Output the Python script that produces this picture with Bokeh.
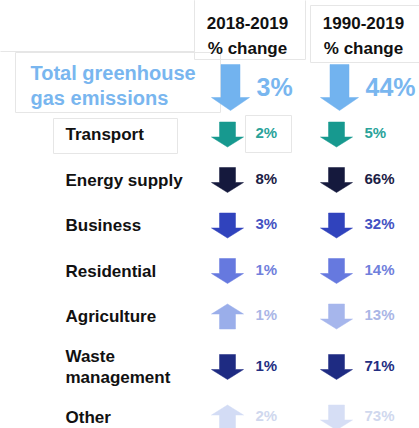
from bokeh.plotting import figure
from bokeh.models import Range1d, ColumnDataSource
from bokeh.core.properties import value
from bokeh.embed import file_html
from bokeh.resources import INLINE

# ---------------- data ----------------
sectors = ["Total greenhouse\ngas emissions", "Transport", "Energy supply", "Business",
           "Residential", "Agriculture", "Waste\nmanagement", "Other"]
change_2018_2019 = [-3, -2, -8, -3, -1, 1, -1, 2]
change_1990_2019 = [-44, -5, -66, -32, -14, -13, -71, -73]
column_headers = ["2018-2019\n% change", "1990-2019\n% change"]

# ---------------- styles ----------------
arrow_colors_a = ["#72b3ef", "#17998f", "#15193d", "#3043bd", "#6679df", "#9aaeea", "#1e2b82", "#d3dcf5"]
arrow_colors_b = ["#72b3ef", "#17998f", "#15193d", "#3043bd", "#6679df", "#a6b6ec", "#1e2b82", "#d6def5"]
text_colors = ["#79b6ef", "#2aa39a", "#1b2045", "#4452c2", "#7080dc", "#aab6e6", "#232e82", "#d0d8ee"]
FONT = value("Liberation Sans")

W, H = 419, 428
p = figure(width=W, height=H, output_backend="svg", toolbar_location=None,
           x_range=Range1d(0, W), y_range=Range1d(H, 0),
           min_border=0, outline_line_color=None)
p.axis.visible = False
p.grid.visible = False
p.background_fill_color = "white"

# ---------------- layout ----------------
lines = [s.split("\n") for s in sectors]
row_y = [86.0, 134.0]
for i in range(2, len(sectors)):
    extra = (len(lines[i - 1]) - 1) + (len(lines[i]) - 1)
    row_y.append(row_y[-1] + 45.5 + 5.0 * extra)

col_x = [227.0, 336.0]
header_x = [247.0, 363.0]
pct_offset = 28.0

# faint slide text-box outlines
boxes = dict(left=[-5, 194, 310, 15, 53, 245],
             right=[194, 305, 425, 220, 177, 291],
             top=[-5, -5, 5, 52, 118, 115],
             bottom=[51, 59, 62, 112, 153, 152])
p.quad(source=ColumnDataSource(boxes), left="left", right="right", top="top", bottom="bottom",
       fill_alpha=0, line_color="#e6e6e6", line_width=1)


def arrow(cx, cy, up, h, sw, hw, hh):
    s = -1 if up else 1          # y grows downward
    top = cy - s * h / 2
    tip = cy + s * h / 2
    neck = tip - s * hh
    xs = [cx - sw / 2, cx + sw / 2, cx + sw / 2, cx + hw / 2, cx, cx - hw / 2, cx - sw / 2]
    ys = [top, top, neck, neck, tip, neck, neck]
    return xs, ys


ax, ay, ac = [], [], []
for i in range(len(sectors)):
    for c, (vals, cols) in enumerate([(change_2018_2019, arrow_colors_a), (change_1990_2019, arrow_colors_b)]):
        if i == 0:
            xs, ys = arrow(col_x[c] + 3, row_y[i] + 1, vals[i] > 0, 46, 19, 38, 13)
        else:
            xs, ys = arrow(col_x[c], row_y[i], vals[i] > 0, 25, 16, 32, 10)
        ax.append(xs); ay.append(ys); ac.append(cols[i])
p.patches(xs=ax, ys=ay, fill_color=ac, line_color=ac, line_width=0.5)

# headers
hx, hy, ht = [], [], []
for c, hdr in enumerate(column_headers):
    for k, ln in enumerate(hdr.split("\n")):
        hx.append(header_x[c]); hy.append(22.5 + 25.5 * k); ht.append(ln)
p.text(x=hx, y=hy, text=ht, text_align="center", text_baseline="middle",
       text_font=FONT, text_font_style="bold", text_font_size="17px", text_color="#111111")

# category labels
for i, ln in enumerate(lines):
    if i == 0:
        n = len(ln)
        ys = [row_y[i] - 1 + 25 * (k - (n - 1) / 2) for k in range(n)]
        p.text(x=[30] * n, y=ys, text=ln, text_align="left", text_baseline="middle",
               text_font=FONT, text_font_style="bold", text_font_size="20px",
               text_color=text_colors[0])
    else:
        n = len(ln)
        ys = [row_y[i] + 21.5 * (k - (n - 1) / 2) for k in range(n)]
        p.text(x=[65] * n, y=ys, text=ln, text_align="left", text_baseline="middle",
               text_font=FONT, text_font_style="bold", text_font_size="17px",
               text_color="#111111")

# percentage labels
for c, vals in enumerate([change_2018_2019, change_1990_2019]):
    px = [col_x[c] + pct_offset] * (len(vals) - 1)
    py = [y - 2 for y in row_y[1:]]
    pt = [f"{abs(v)}%" for v in vals[1:]]
    p.text(x=px, y=py, text=pt, text_align="left", text_baseline="middle",
           text_font=FONT, text_font_style="bold", text_font_size="15px",
           text_color=text_colors[1:])
    p.text(x=[col_x[c] + pct_offset + 1], y=[row_y[0]], text=[f"{abs(vals[0])}%"],
           text_align="left", text_baseline="middle", text_font=FONT, text_font_style="bold",
           text_font_size="25px", text_color=text_colors[0])

open("out.html", "w").write(file_html(p, INLINE))
